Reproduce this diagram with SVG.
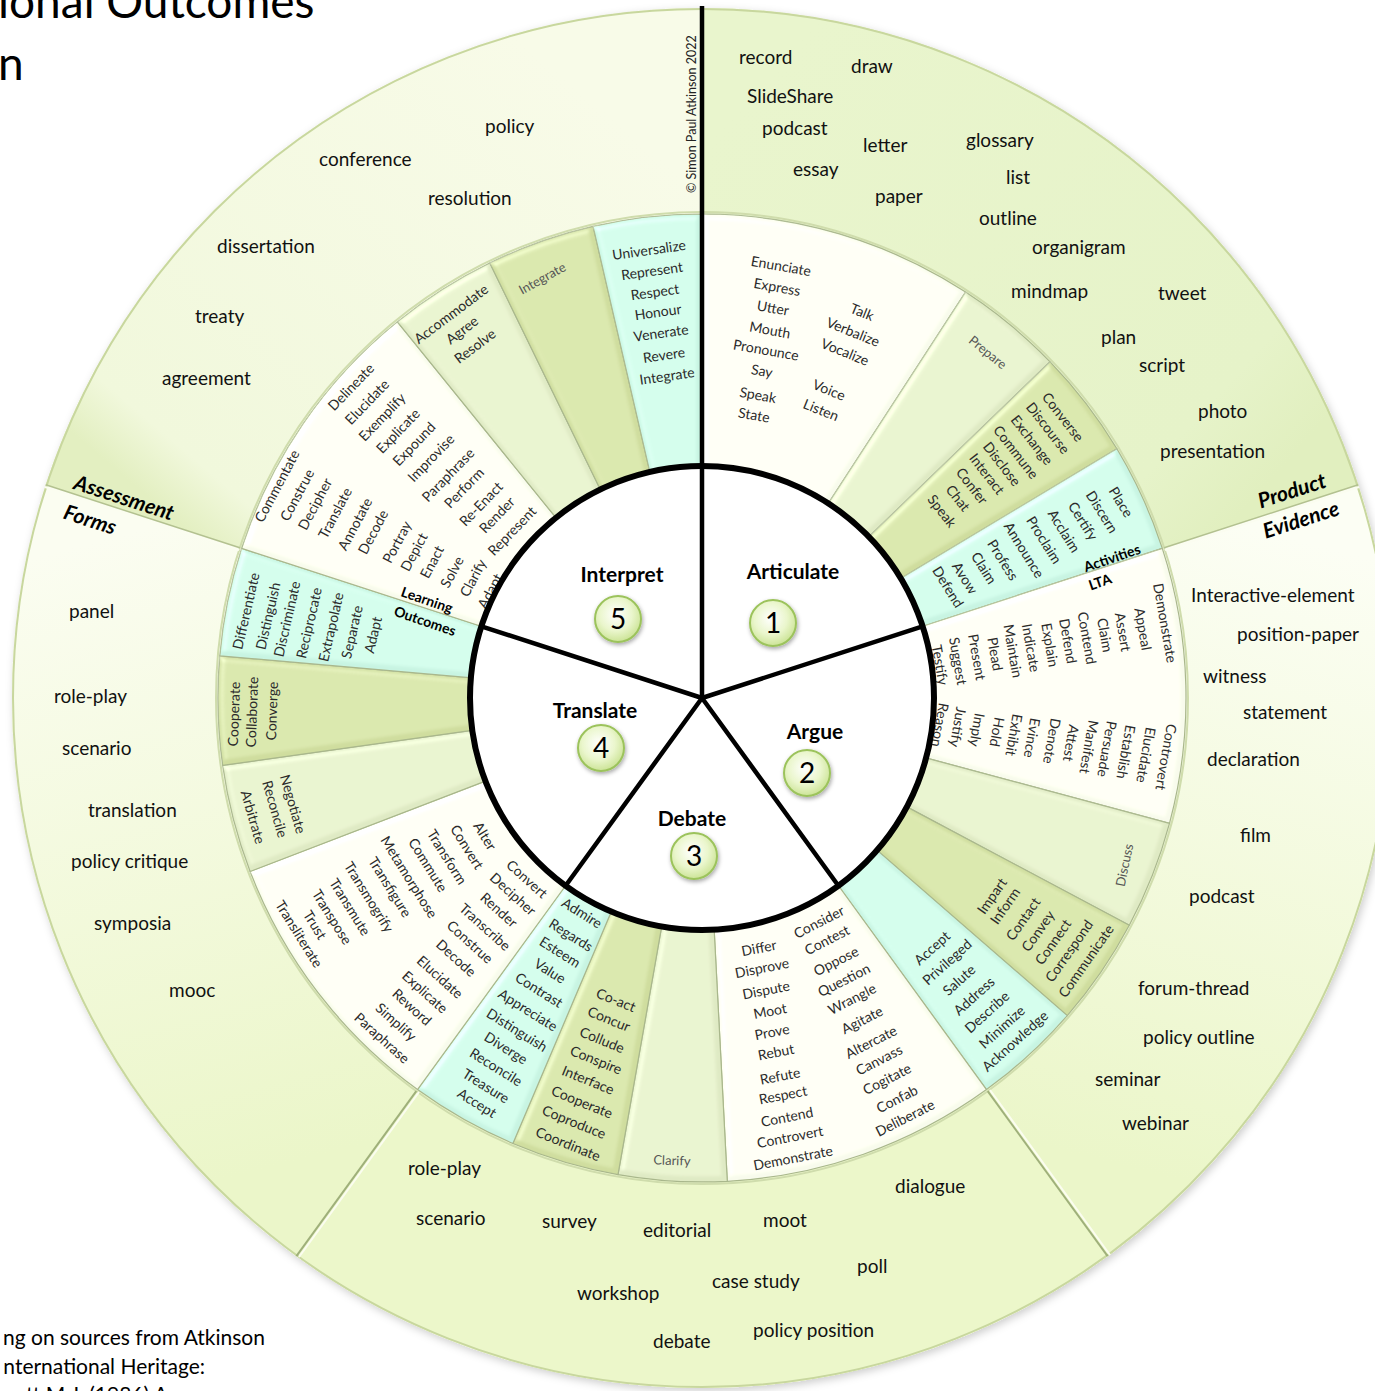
<svg xmlns="http://www.w3.org/2000/svg" width="1375" height="1391" viewBox="0 0 1375 1391">
<defs>
<style>
text{font-family:Lato,'Liberation Sans',sans-serif}
.ow{font-size:19px;fill:#111}
.w{font-size:14px;fill:#2b2b2b;text-anchor:middle}
.g{font-size:13px;fill:#555;text-anchor:middle}
.hd{font-size:21px;font-weight:bold;fill:#000;text-anchor:middle}
.num{font-size:28px;fill:#000;text-anchor:middle}
.lb{font-size:21px;font-weight:bold;font-style:italic;fill:#000;text-anchor:middle}
.sl{font-size:14px;font-weight:bold;fill:#000;text-anchor:middle}
.big{font-size:46px;fill:#000}
.note{font-size:21px;fill:#000;text-anchor:end}
.cp{font-size:12.5px;fill:#222}
.wedge{stroke:#a9b78c;stroke-width:1.2;stroke-linejoin:round;filter:url(#bevel)}
.cream{fill:#f8fbec}
.lg{fill:#dfeac4}
.ol{fill:#cfdd9e}
.cy{fill:#c8f4e2}
.bev{stroke:#9fb07a;stroke-width:2;fill:none}
.hil{stroke:#fbfdf0;stroke-width:2;fill:none}
.badge{fill:url(#gBadge);stroke:#9cc35c;stroke-width:2;filter:url(#bsh)}
</style>
<filter id="osh" x="-5%" y="-5%" width="110%" height="110%">
<feDropShadow dx="2" dy="3" stdDeviation="4" flood-color="#000" flood-opacity="0.2"/>
</filter>
<filter id="bsh" x="-30%" y="-30%" width="160%" height="160%">
<feDropShadow dx="1" dy="2" stdDeviation="2" flood-color="#000" flood-opacity="0.35"/>
</filter>
<filter id="bevel" x="-5%" y="-5%" width="110%" height="110%">
<feGaussianBlur in="SourceAlpha" stdDeviation="3" result="b"/>
<feSpecularLighting in="b" surfaceScale="3" specularConstant="0.45" specularExponent="18" lighting-color="#ffffff" result="s">
<feDistantLight azimuth="225" elevation="50"/>
</feSpecularLighting>
<feComposite in="s" in2="SourceAlpha" operator="in" result="s2"/>
<feComposite in="SourceGraphic" in2="s2" operator="arithmetic" k1="0" k2="1" k3="0.6" k4="0"/>
</filter>
<radialGradient id="gBadge" cx="0.45" cy="0.4" r="0.65">
<stop offset="0" stop-color="#ffffff"/>
<stop offset="0.55" stop-color="#eaf6cc"/>
<stop offset="1" stop-color="#c6e08c"/>
</radialGradient>
<linearGradient id="gRight" gradientUnits="userSpaceOnUse" x1="1220" y1="520" x2="1060" y2="1150">
<stop offset="0" stop-color="#fcfef4"/>
<stop offset="1" stop-color="#ebf6c9"/>
</linearGradient>
<linearGradient id="gLeft" gradientUnits="userSpaceOnUse" x1="180" y1="520" x2="340" y2="1150">
<stop offset="0" stop-color="#fbfdf1"/>
<stop offset="1" stop-color="#ebf6c9"/>
</linearGradient>
<linearGradient id="gTL" gradientUnits="userSpaceOnUse" x1="140" y1="490" x2="520" y2="40">
<stop offset="0" stop-color="#e3efc1"/>
<stop offset="0.1" stop-color="#f1f8dc"/>
<stop offset="1" stop-color="#f8fbe8"/>
</linearGradient>
<linearGradient id="gTR" gradientUnits="userSpaceOnUse" x1="1280" y1="470" x2="800" y2="40">
<stop offset="0" stop-color="#e1efbf"/>
<stop offset="0.15" stop-color="#e6f3c9"/>
<stop offset="1" stop-color="#e9f5cd"/>
</linearGradient>
</defs>

<g id="title-fragments">
<text class="big" x="-2" y="18">ional Outcomes</text>
<text class="big" x="-2" y="80">n</text>
<text class="note" x="265" y="1345">ng on sources from Atkinson</text>
<text class="note" x="205" y="1374">nternational Heritage:</text>
<text class="note" x="168" y="1402">nott M.J. (1986) A</text>
</g>

<g id="outer-ring">
<circle cx="702" cy="698" r="690" fill="#eaf6c9" filter="url(#osh)"/>
<path id="sector-product" d="M702,698 L702,8 A690,690 0 0 1 1358.3,484.8 Z" fill="url(#gTR)"/>
<path id="sector-right" d="M702,698 L1358.3,484.8 A690,690 0 0 1 1107.6,1256.2 Z" fill="url(#gRight)"/>
<path id="sector-bottom" d="M702,698 L1107.6,1256.2 A690,690 0 0 1 296.4,1256.2 Z" fill="#ecf7ca"/>
<path id="sector-left" d="M702,698 L296.4,1256.2 A690,690 0 0 1 45.7,484.8 Z" fill="url(#gLeft)"/>
<path id="sector-assessment" d="M702,698 L45.7,484.8 A690,690 0 0 1 702,8 Z" fill="url(#gTL)"/>
<circle cx="702" cy="698" r="689" fill="none" stroke="#c8d79e" stroke-width="2"/>
<circle cx="702" cy="698" r="486" fill="none" stroke="#cfdcac" stroke-width="2"/>
</g>

<g id="wedges">
<g id="articulate-wedges">
<path class="wedge cream" d="M702,473 L702,214 A484,484 0 0 1 965.6,292.1 L824.5,509.3 A225,225 0 0 0 702,473 Z"/>
<path class="wedge lg" d="M824.5,509.3 L965.6,292.1 A484,484 0 0 1 1050.1,361.8 L863.8,541.7 A225,225 0 0 0 824.5,509.3 Z"/>
<path class="wedge ol" d="M863.8,541.7 L1050.1,361.8 A484,484 0 0 1 1116.9,448.7 L894.9,582.1 A225,225 0 0 0 863.8,541.7 Z"/>
<path class="wedge cy" d="M894.9,582.1 L1116.9,448.7 A484,484 0 0 1 1162.3,548.4 L916,628.5 A225,225 0 0 0 894.9,582.1 Z"/>
</g>
<g id="argue-wedges">
<path class="wedge cream" d="M916,628.5 L1162.3,548.4 A484,484 0 0 1 1169.5,823.3 L919.3,756.2 A225,225 0 0 0 916,628.5 Z"/>
<path class="wedge lg" d="M919.3,756.2 L1169.5,823.3 A484,484 0 0 1 1129.3,925.2 L900.7,803.6 A225,225 0 0 0 919.3,756.2 Z"/>
<path class="wedge ol" d="M900.7,803.6 L1129.3,925.2 A484,484 0 0 1 1067.3,1015.6 L871.8,845.6 A225,225 0 0 0 900.7,803.6 Z"/>
<path class="wedge cy" d="M871.8,845.6 L1067.3,1015.6 A484,484 0 0 1 986.5,1089.6 L834.3,880 A225,225 0 0 0 871.8,845.6 Z"/>
</g>
<g id="debate-wedges">
<path class="wedge cream" d="M834.3,880 L986.5,1089.6 A484,484 0 0 1 727.3,1181.3 L713.8,922.7 A225,225 0 0 0 834.3,880 Z"/>
<path class="wedge lg" d="M713.8,922.7 L727.3,1181.3 A484,484 0 0 1 618,1174.6 L662.9,919.6 A225,225 0 0 0 713.8,922.7 Z"/>
<path class="wedge ol" d="M662.9,919.6 L618,1174.6 A484,484 0 0 1 512.9,1143.5 L614.1,905.1 A225,225 0 0 0 662.9,919.6 Z"/>
<path class="wedge cy" d="M614.1,905.1 L512.9,1143.5 A484,484 0 0 1 417.5,1089.6 L569.7,880 A225,225 0 0 0 614.1,905.1 Z"/>
</g>
<g id="translate-wedges">
<path class="wedge cream" d="M569.7,880 L417.5,1089.6 A484,484 0 0 1 250.1,871.5 L491.9,778.6 A225,225 0 0 0 569.7,880 Z"/>
<path class="wedge lg" d="M491.9,778.6 L250.1,871.5 A484,484 0 0 1 222.7,765.4 L479.2,729.3 A225,225 0 0 0 491.9,778.6 Z"/>
<path class="wedge ol" d="M479.2,729.3 L222.7,765.4 A484,484 0 0 1 219.8,655.8 L477.9,678.4 A225,225 0 0 0 479.2,729.3 Z"/>
<path class="wedge cy" d="M477.9,678.4 L219.8,655.8 A484,484 0 0 1 241.7,548.4 L488,628.5 A225,225 0 0 0 477.9,678.4 Z"/>
</g>
<g id="interpret-wedges">
<path class="wedge cream" d="M488,628.5 L241.7,548.4 A484,484 0 0 1 397.4,321.9 L560.4,523.2 A225,225 0 0 0 488,628.5 Z"/>
<path class="wedge lg" d="M560.4,523.2 L397.4,321.9 A484,484 0 0 1 489.8,263 L603.4,495.8 A225,225 0 0 0 560.4,523.2 Z"/>
<path class="wedge ol" d="M603.4,495.8 L489.8,263 A484,484 0 0 1 593.1,226.4 L651.4,478.8 A225,225 0 0 0 603.4,495.8 Z"/>
<path class="wedge cy" d="M651.4,478.8 L593.1,226.4 A484,484 0 0 1 702,214 L702,473 A225,225 0 0 0 651.4,478.8 Z"/>
</g>
</g>

<g id="dividers">
<line class="hil" x1="1164.8" y1="550" x2="1359" y2="487"/>
<line x1="1164.2" y1="547.8" x2="1358.3" y2="484.8" stroke="#b3c190" stroke-width="1.5"/>
<line class="hil" x1="239.2" y1="550" x2="45" y2="487"/>
<line x1="239.8" y1="547.8" x2="45.7" y2="484.8" stroke="#b3c190" stroke-width="1.5"/>
<line class="hil" x1="990" y1="1090" x2="1110" y2="1255"/>
<line class="bev" x1="987.7" y1="1091.2" x2="1107.6" y2="1256.2"/>
<line class="hil" x1="419" y1="1092" x2="299" y2="1257"/>
<line class="bev" x1="416.3" y1="1091.2" x2="296.4" y2="1256.2"/>
<line x1="702" y1="6" x2="702" y2="698" stroke="#000" stroke-width="4.5"/>
</g>

<g id="outer-words">
<g id="product-evidence-words">
<text class="ow" x="739" y="64">record</text>
<text class="ow" x="851" y="73">draw</text>
<text class="ow" x="747" y="103">SlideShare</text>
<text class="ow" x="762" y="135">podcast</text>
<text class="ow" x="863" y="152">letter</text>
<text class="ow" x="793" y="176">essay</text>
<text class="ow" x="875" y="203">paper</text>
<text class="ow" x="966" y="147">glossary</text>
<text class="ow" x="1006" y="184">list</text>
<text class="ow" x="979" y="225">outline</text>
<text class="ow" x="1032" y="254">organigram</text>
<text class="ow" x="1011" y="298">mindmap</text>
<text class="ow" x="1158" y="300">tweet</text>
<text class="ow" x="1101" y="344">plan</text>
<text class="ow" x="1139" y="372">script</text>
<text class="ow" x="1198" y="418">photo</text>
<text class="ow" x="1160" y="458">presentation</text>
</g>
<g id="assessment-words">
<text class="ow" x="485" y="133">policy</text>
<text class="ow" x="319" y="166">conference</text>
<text class="ow" x="428" y="205">resolution</text>
<text class="ow" x="217" y="253">dissertation</text>
<text class="ow" x="195" y="323">treaty</text>
<text class="ow" x="162" y="385">agreement</text>
</g>
<g id="left-words">
<text class="ow" x="69" y="618">panel</text>
<text class="ow" x="54" y="703">role-play</text>
<text class="ow" x="62" y="755">scenario</text>
<text class="ow" x="88" y="817">translation</text>
<text class="ow" x="71" y="868">policy critique</text>
<text class="ow" x="94" y="930">symposia</text>
<text class="ow" x="169" y="997">mooc</text>
</g>
<g id="bottom-words">
<text class="ow" x="408" y="1175">role-play</text>
<text class="ow" x="416" y="1225">scenario</text>
<text class="ow" x="542" y="1228">survey</text>
<text class="ow" x="643" y="1237">editorial</text>
<text class="ow" x="763" y="1227">moot</text>
<text class="ow" x="895" y="1193">dialogue</text>
<text class="ow" x="857" y="1273">poll</text>
<text class="ow" x="712" y="1288">case study</text>
<text class="ow" x="577" y="1300">workshop</text>
<text class="ow" x="753" y="1337">policy position</text>
<text class="ow" x="653" y="1348">debate</text>
</g>
<g id="right-words">
<text class="ow" x="1191" y="602">Interactive-element</text>
<text class="ow" x="1237" y="641">position-paper</text>
<text class="ow" x="1203" y="683">witness</text>
<text class="ow" x="1243" y="719">statement</text>
<text class="ow" x="1207" y="766">declaration</text>
<text class="ow" x="1240" y="842">film</text>
<text class="ow" x="1189" y="903">podcast</text>
<text class="ow" x="1138" y="995">forum-thread</text>
<text class="ow" x="1143" y="1044">policy outline</text>
<text class="ow" x="1095" y="1086">seminar</text>
<text class="ow" x="1122" y="1130">webinar</text>
</g>
<text class="cp" transform="translate(696 193) rotate(-90)">© Simon Paul Atkinson 2022</text>
</g>

<g id="ring-labels">
<text class="lb" transform="translate(1292 491) rotate(-18)" y="7">Product</text>
<text class="lb" transform="translate(1301 520) rotate(-18)" y="7">Evidence</text>
<text class="lb" transform="translate(124 498) rotate(18)" y="7">Assessment</text>
<text class="lb" transform="translate(90 520) rotate(18)" y="7">Forms</text>
<text class="sl" transform="translate(1112 558) rotate(-19)" y="5">Activities</text>
<text class="sl" transform="translate(1100 582) rotate(-19)" y="5">LTA</text>
<text class="sl" transform="translate(427 600) rotate(19)" y="5">Learning</text>
<text class="sl" transform="translate(425 621) rotate(19)" y="5">Outcomes</text>
</g>

<g id="articulate-words">
<text class="w" transform="translate(781 266) rotate(10)" y="5">Enunciate</text>
<text class="w" transform="translate(777 287) rotate(10)" y="5">Express</text>
<text class="w" transform="translate(773 308) rotate(10)" y="5">Utter</text>
<text class="w" transform="translate(770 330) rotate(10)" y="5">Mouth</text>
<text class="w" transform="translate(766 350) rotate(10)" y="5">Pronounce</text>
<text class="w" transform="translate(762 371) rotate(10)" y="5">Say</text>
<text class="w" transform="translate(758 395) rotate(10)" y="5">Speak</text>
<text class="w" transform="translate(754 415) rotate(10)" y="5">State</text>
<text class="w" transform="translate(862 312) rotate(22)" y="5">Talk</text>
<text class="w" transform="translate(853 332) rotate(22)" y="5">Verbalize</text>
<text class="w" transform="translate(845 352) rotate(22)" y="5">Vocalize</text>
<text class="w" transform="translate(829 390) rotate(22)" y="5">Voice</text>
<text class="w" transform="translate(821 410) rotate(22)" y="5">Listen</text>
<text class="g" transform="translate(988 352) rotate(39)" y="5">Prepare</text>
<text class="w" transform="translate(1063 417) rotate(52)" y="5">Converse</text>
<text class="w" transform="translate(1048 428) rotate(52)" y="5">Discourse</text>
<text class="w" transform="translate(1032 440) rotate(52)" y="5">Exchange</text>
<text class="w" transform="translate(1016 452) rotate(52)" y="5">Commune</text>
<text class="w" transform="translate(1002 464) rotate(52)" y="5">Disclose</text>
<text class="w" transform="translate(987 474) rotate(52)" y="5">Interact</text>
<text class="w" transform="translate(972 486) rotate(52)" y="5">Confer</text>
<text class="w" transform="translate(958 498) rotate(52)" y="5">Chat</text>
<text class="w" transform="translate(942 511) rotate(52)" y="5">Speak</text>
<text class="w" transform="translate(1121 502) rotate(58)" y="5">Place</text>
<text class="w" transform="translate(1102 512) rotate(58)" y="5">Discern</text>
<text class="w" transform="translate(1083 521) rotate(58)" y="5">Certify</text>
<text class="w" transform="translate(1064 531) rotate(58)" y="5">Acclaim</text>
<text class="w" transform="translate(1044 540) rotate(58)" y="5">Proclaim</text>
<text class="w" transform="translate(1024 550) rotate(58)" y="5">Announce</text>
<text class="w" transform="translate(1003 560) rotate(58)" y="5">Profess</text>
<text class="w" transform="translate(984 568) rotate(58)" y="5">Claim</text>
<text class="w" transform="translate(965 578) rotate(58)" y="5">Avow</text>
<text class="w" transform="translate(948 587) rotate(58)" y="5">Defend</text>
</g>

<g id="argue-words">
<text class="w" transform="translate(1165 623) rotate(80)" y="5">Demonstrate</text>
<text class="w" transform="translate(1143 629) rotate(80)" y="5">Appeal</text>
<text class="w" transform="translate(1123 632) rotate(80)" y="5">Assert</text>
<text class="w" transform="translate(1105 635) rotate(80)" y="5">Claim</text>
<text class="w" transform="translate(1087 638) rotate(80)" y="5">Contend</text>
<text class="w" transform="translate(1068 641) rotate(80)" y="5">Defend</text>
<text class="w" transform="translate(1050 645) rotate(80)" y="5">Explain</text>
<text class="w" transform="translate(1031 648) rotate(80)" y="5">Indicate</text>
<text class="w" transform="translate(1013 651) rotate(80)" y="5">Maintain</text>
<text class="w" transform="translate(995 654) rotate(80)" y="5">Plead</text>
<text class="w" transform="translate(977 657) rotate(80)" y="5">Present</text>
<text class="w" transform="translate(958 661) rotate(80)" y="5">Suggest</text>
<text class="w" transform="translate(940 665) rotate(80)" y="5">Testify</text>
<text class="w" transform="translate(1166 757) rotate(100)" y="5">Controvert</text>
<text class="w" transform="translate(1146 755) rotate(100)" y="5">Elucidate</text>
<text class="w" transform="translate(1126 752) rotate(100)" y="5">Establish</text>
<text class="w" transform="translate(1107 749) rotate(100)" y="5">Persuade</text>
<text class="w" transform="translate(1089 747) rotate(100)" y="5">Manifest</text>
<text class="w" transform="translate(1071 743) rotate(100)" y="5">Attest</text>
<text class="w" transform="translate(1052 741) rotate(100)" y="5">Denote</text>
<text class="w" transform="translate(1032 738) rotate(100)" y="5">Evince</text>
<text class="w" transform="translate(1014 735) rotate(100)" y="5">Exhibit</text>
<text class="w" transform="translate(997 732) rotate(100)" y="5">Hold</text>
<text class="w" transform="translate(977 730) rotate(100)" y="5">Imply</text>
<text class="w" transform="translate(958 727) rotate(100)" y="5">Justify</text>
<text class="w" transform="translate(940 725) rotate(100)" y="5">Reason</text>
<text class="g" transform="translate(1124 865) rotate(-78)" y="5">Discuss</text>
<text class="w" transform="translate(992 896) rotate(-55)" y="5">Impart</text>
<text class="w" transform="translate(1005 906) rotate(-55)" y="5">Inform</text>
<text class="w" transform="translate(1023 919) rotate(-55)" y="5">Contact</text>
<text class="w" transform="translate(1038 931) rotate(-55)" y="5">Convey</text>
<text class="w" transform="translate(1053 942) rotate(-55)" y="5">Connect</text>
<text class="w" transform="translate(1069 951) rotate(-55)" y="5">Correspond</text>
<text class="w" transform="translate(1086 961) rotate(-55)" y="5">Communicate</text>
<text class="w" transform="translate(932 948) rotate(-42)" y="5">Accept</text>
<text class="w" transform="translate(947 962) rotate(-42)" y="5">Privileged</text>
<text class="w" transform="translate(959 980) rotate(-42)" y="5">Salute</text>
<text class="w" transform="translate(974 996) rotate(-42)" y="5">Address</text>
<text class="w" transform="translate(987 1012) rotate(-42)" y="5">Describe</text>
<text class="w" transform="translate(1002 1027) rotate(-42)" y="5">Minimize</text>
<text class="w" transform="translate(1015 1041) rotate(-42)" y="5">Acknowledge</text>
</g>

<g id="debate-words">
<text class="w" transform="translate(819 922) rotate(-27)" y="5">Consider</text>
<text class="w" transform="translate(827 940) rotate(-27)" y="5">Contest</text>
<text class="w" transform="translate(836 961) rotate(-27)" y="5">Oppose</text>
<text class="w" transform="translate(844 980) rotate(-27)" y="5">Question</text>
<text class="w" transform="translate(852 999) rotate(-27)" y="5">Wrangle</text>
<text class="w" transform="translate(862 1020) rotate(-27)" y="5">Agitate</text>
<text class="w" transform="translate(871 1042) rotate(-27)" y="5">Altercate</text>
<text class="w" transform="translate(879 1060) rotate(-27)" y="5">Canvass</text>
<text class="w" transform="translate(887 1079) rotate(-27)" y="5">Cogitate</text>
<text class="w" transform="translate(897 1099) rotate(-27)" y="5">Confab</text>
<text class="w" transform="translate(905 1118) rotate(-27)" y="5">Deliberate</text>
<text class="w" transform="translate(759 948) rotate(-11)" y="5">Differ</text>
<text class="w" transform="translate(762 968) rotate(-11)" y="5">Disprove</text>
<text class="w" transform="translate(766 990) rotate(-11)" y="5">Dispute</text>
<text class="w" transform="translate(770 1011) rotate(-11)" y="5">Moot</text>
<text class="w" transform="translate(772 1032) rotate(-11)" y="5">Prove</text>
<text class="w" transform="translate(776 1052) rotate(-11)" y="5">Rebut</text>
<text class="w" transform="translate(780 1076) rotate(-11)" y="5">Refute</text>
<text class="w" transform="translate(783 1095) rotate(-11)" y="5">Respect</text>
<text class="w" transform="translate(787 1117) rotate(-11)" y="5">Contend</text>
<text class="w" transform="translate(790 1137) rotate(-11)" y="5">Controvert</text>
<text class="w" transform="translate(793 1158) rotate(-11)" y="5">Demonstrate</text>
<text class="g" transform="translate(672 1160) rotate(2)" y="5">Clarify</text>
<text class="w" transform="translate(616 1000) rotate(22)" y="5">Co-act</text>
<text class="w" transform="translate(609 1019) rotate(22)" y="5">Concur</text>
<text class="w" transform="translate(602 1040) rotate(22)" y="5">Collude</text>
<text class="w" transform="translate(596 1060) rotate(22)" y="5">Conspire</text>
<text class="w" transform="translate(588 1080) rotate(22)" y="5">Interface</text>
<text class="w" transform="translate(582 1102) rotate(22)" y="5">Cooperate</text>
<text class="w" transform="translate(574 1122) rotate(22)" y="5">Coproduce</text>
<text class="w" transform="translate(568 1144) rotate(22)" y="5">Coordinate</text>
<text class="w" transform="translate(582 913) rotate(32)" y="5">Admire</text>
<text class="w" transform="translate(571 935) rotate(32)" y="5">Regards</text>
<text class="w" transform="translate(560 952) rotate(32)" y="5">Esteem</text>
<text class="w" transform="translate(550 971) rotate(32)" y="5">Value</text>
<text class="w" transform="translate(539 990) rotate(32)" y="5">Contrast</text>
<text class="w" transform="translate(528 1010) rotate(32)" y="5">Appreciate</text>
<text class="w" transform="translate(517 1030) rotate(32)" y="5">Distinguish</text>
<text class="w" transform="translate(506 1048) rotate(32)" y="5">Diverge</text>
<text class="w" transform="translate(496 1067) rotate(32)" y="5">Reconcile</text>
<text class="w" transform="translate(486 1086) rotate(32)" y="5">Treasure</text>
<text class="w" transform="translate(477 1103) rotate(32)" y="5">Accept</text>
</g>

<g id="translate-words">
<text class="w" transform="translate(485 836) rotate(58)" y="5">Alter</text>
<text class="w" transform="translate(467 847) rotate(58)" y="5">Convert</text>
<text class="w" transform="translate(447 857) rotate(58)" y="5">Transform</text>
<text class="w" transform="translate(428 865) rotate(58)" y="5">Commute</text>
<text class="w" transform="translate(409 877) rotate(58)" y="5">Metamorphose</text>
<text class="w" transform="translate(390 887) rotate(58)" y="5">Transfigure</text>
<text class="w" transform="translate(369 897) rotate(58)" y="5">Transmogrify</text>
<text class="w" transform="translate(350 907) rotate(58)" y="5">Transmute</text>
<text class="w" transform="translate(332 917) rotate(58)" y="5">Transpose</text>
<text class="w" transform="translate(315 925) rotate(58)" y="5">Trust</text>
<text class="w" transform="translate(299 934) rotate(58)" y="5">Transliterate</text>
<text class="w" transform="translate(527 879) rotate(42)" y="5">Convert</text>
<text class="w" transform="translate(513 894) rotate(42)" y="5">Decipher</text>
<text class="w" transform="translate(499 910) rotate(42)" y="5">Render</text>
<text class="w" transform="translate(485 927) rotate(42)" y="5">Transcribe</text>
<text class="w" transform="translate(470 942) rotate(42)" y="5">Construe</text>
<text class="w" transform="translate(456 958) rotate(42)" y="5">Decode</text>
<text class="w" transform="translate(440 977) rotate(42)" y="5">Elucidate</text>
<text class="w" transform="translate(425 992) rotate(42)" y="5">Explicate</text>
<text class="w" transform="translate(412 1007) rotate(42)" y="5">Reword</text>
<text class="w" transform="translate(396 1022) rotate(42)" y="5">Simplify</text>
<text class="w" transform="translate(382 1038) rotate(42)" y="5">Paraphrase</text>
<text class="w" transform="translate(293 804) rotate(74)" y="5">Negotiate</text>
<text class="w" transform="translate(275 809) rotate(74)" y="5">Reconcile</text>
<text class="w" transform="translate(253 817) rotate(74)" y="5">Arbitrate</text>
<text class="w" transform="translate(234 714) rotate(-88)" y="5">Cooperate</text>
<text class="w" transform="translate(252 712) rotate(-88)" y="5">Collaborate</text>
<text class="w" transform="translate(272 711) rotate(-88)" y="5">Converge</text>
<text class="w" transform="translate(246 611) rotate(-77)" y="5">Differentiate</text>
<text class="w" transform="translate(268 616) rotate(-77)" y="5">Distinguish</text>
<text class="w" transform="translate(287 619) rotate(-77)" y="5">Discriminate</text>
<text class="w" transform="translate(309 623) rotate(-77)" y="5">Reciprocate</text>
<text class="w" transform="translate(331 627) rotate(-77)" y="5">Extrapolate</text>
<text class="w" transform="translate(352 632) rotate(-77)" y="5">Separate</text>
<text class="w" transform="translate(373 635) rotate(-77)" y="5">Adapt</text>
</g>

<g id="interpret-words">
<text class="w" transform="translate(277 486) rotate(-62)" y="5">Commentate</text>
<text class="w" transform="translate(297 495) rotate(-62)" y="5">Construe</text>
<text class="w" transform="translate(315 504) rotate(-62)" y="5">Decipher</text>
<text class="w" transform="translate(335 513) rotate(-62)" y="5">Translate</text>
<text class="w" transform="translate(355 524) rotate(-62)" y="5">Annotate</text>
<text class="w" transform="translate(373 532) rotate(-62)" y="5">Decode</text>
<text class="w" transform="translate(397 542) rotate(-62)" y="5">Portray</text>
<text class="w" transform="translate(414 552) rotate(-62)" y="5">Depict</text>
<text class="w" transform="translate(432 562) rotate(-62)" y="5">Enact</text>
<text class="w" transform="translate(452 572) rotate(-62)" y="5">Solve</text>
<text class="w" transform="translate(473 578) rotate(-62)" y="5">Clarify</text>
<text class="w" transform="translate(490 591) rotate(-62)" y="5">Adapt</text>
<text class="w" transform="translate(351 387) rotate(-46)" y="5">Delineate</text>
<text class="w" transform="translate(367 402) rotate(-46)" y="5">Elucidate</text>
<text class="w" transform="translate(382 417) rotate(-46)" y="5">Exemplify</text>
<text class="w" transform="translate(398 431) rotate(-46)" y="5">Explicate</text>
<text class="w" transform="translate(414 444) rotate(-46)" y="5">Expound</text>
<text class="w" transform="translate(431 458) rotate(-46)" y="5">Improvise</text>
<text class="w" transform="translate(448 475) rotate(-46)" y="5">Paraphrase</text>
<text class="w" transform="translate(464 488) rotate(-46)" y="5">Perform</text>
<text class="w" transform="translate(481 504) rotate(-46)" y="5">Re-Enact</text>
<text class="w" transform="translate(497 515) rotate(-46)" y="5">Render</text>
<text class="w" transform="translate(512 531) rotate(-46)" y="5">Represent</text>
<text class="w" transform="translate(451 314) rotate(-37)" y="5">Accommodate</text>
<text class="w" transform="translate(462 330) rotate(-37)" y="5">Agree</text>
<text class="w" transform="translate(475 346) rotate(-37)" y="5">Resolve</text>
<text class="g" transform="translate(542 278) rotate(-29)" y="5">Integrate</text>
<text class="w" transform="translate(649 250) rotate(-8)" y="5">Universalize</text>
<text class="w" transform="translate(652 271) rotate(-8)" y="5">Represent</text>
<text class="w" transform="translate(655 292) rotate(-8)" y="5">Respect</text>
<text class="w" transform="translate(658 312) rotate(-8)" y="5">Honour</text>
<text class="w" transform="translate(661 333) rotate(-8)" y="5">Venerate</text>
<text class="w" transform="translate(664 355) rotate(-8)" y="5">Revere</text>
<text class="w" transform="translate(667 376) rotate(-8)" y="5">Integrate</text>
</g>

<g id="core">
<circle cx="702" cy="698" r="232" fill="#ffffff" stroke="#000" stroke-width="6"/>
<g id="core-spokes" stroke="#000" stroke-width="4.5" stroke-linecap="round">
<line x1="702" y1="698" x2="702" y2="466"/>
<line x1="702" y1="698" x2="922.6" y2="626.3"/>
<line x1="702" y1="698" x2="838.4" y2="885.7"/>
<line x1="702" y1="698" x2="565.6" y2="885.7"/>
<line x1="702" y1="698" x2="481.4" y2="626.3"/>
</g>
<g id="node-articulate">
<text class="hd" x="793" y="579">Articulate</text>
<circle class="badge" cx="773" cy="623" r="23"/>
<text class="num" x="773" y="633">1</text>
</g>
<g id="node-argue">
<text class="hd" x="815" y="739">Argue</text>
<circle class="badge" cx="807" cy="773" r="23"/>
<text class="num" x="807" y="783">2</text>
</g>
<g id="node-debate">
<text class="hd" x="692" y="826">Debate</text>
<circle class="badge" cx="694" cy="856" r="23"/>
<text class="num" x="694" y="866">3</text>
</g>
<g id="node-translate">
<text class="hd" x="595" y="718">Translate</text>
<circle class="badge" cx="601" cy="748" r="23"/>
<text class="num" x="601" y="758">4</text>
</g>
<g id="node-interpret">
<text class="hd" x="622" y="582">Interpret</text>
<circle class="badge" cx="618" cy="619" r="23"/>
<text class="num" x="618" y="629">5</text>
</g>
</g>
</svg>
